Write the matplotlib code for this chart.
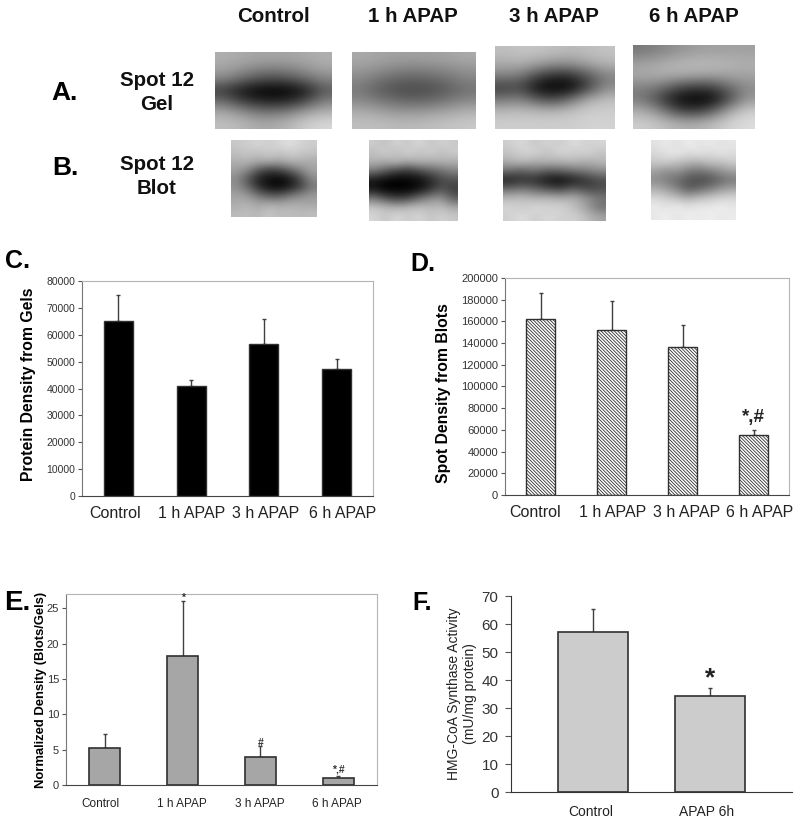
import numpy as np
import matplotlib
matplotlib.use('Agg')
import matplotlib.pyplot as plt

plt.rcParams['font.family'] = ['Liberation Sans', 'DejaVu Sans']
plt.rcParams['hatch.linewidth'] = 0.6

W = 800
H = 821

groups = ['Control', '1 h APAP', '3 h APAP', '6 h APAP']

gel_vals = [65000, 41000, 56500, 47200]
gel_tops = [74700, 43300, 65800, 51000]
gel_ticks = [0, 10000, 20000, 30000, 40000, 50000, 60000, 70000, 80000]

blot_vals = [162000, 152500, 136500, 55000]
blot_tops = [186500, 178500, 157000, 59500]
blot_ticks = [0, 20000, 40000, 60000, 80000, 100000, 120000, 140000, 160000, 180000, 200000]

norm_vals = [5.3, 18.2, 3.9, 1.0]
norm_tops = [7.2, 26.0, 5.5, 1.3]
norm_ticks = [0, 5, 10, 15, 20, 25]
norm_marks = ['*', '#', '*,#']
norm_mark_at = [25.8, 5.3, 1.5]

hmg_groups = ['Control', 'APAP 6h']
hmg_vals = [57, 34.3]
hmg_tops = [65.5, 37]
hmg_ticks = [0, 10, 20, 30, 40, 50, 60, 70]

# gray levels
gel_control = [[175, 170, 165, 165, 165, 170, 175],
               [165, 150, 135, 130, 135, 150, 165],
               [130, 105, 80, 70, 80, 105, 130],
               [60, 25, 5, 0, 5, 30, 90],
               [110, 70, 45, 35, 45, 80, 130],
               [170, 150, 125, 120, 135, 165, 180],
               [190, 185, 170, 170, 185, 205, 215]]
gel_1h = [[170, 165, 160, 160, 160, 165, 170],
          [155, 145, 135, 130, 135, 140, 150],
          [135, 115, 100, 95, 100, 115, 130],
          [120, 95, 80, 75, 80, 95, 115],
          [140, 125, 110, 105, 110, 125, 140],
          [175, 165, 155, 155, 160, 170, 180],
          [190, 190, 185, 185, 190, 195, 200]]
gel_3h = [[190, 195, 195, 190, 185, 190, 195],
          [170, 175, 160, 145, 145, 165, 180],
          [130, 120, 70, 40, 50, 90, 130],
          [60, 70, 10, 0, 5, 70, 140],
          [120, 130, 90, 70, 120, 175, 190],
          [185, 190, 185, 185, 195, 205, 205],
          [205, 205, 205, 205, 205, 210, 210]]
gel_6h = [[120, 130, 145, 155, 160, 160, 160],
          [160, 170, 180, 185, 185, 180, 175],
          [170, 175, 175, 170, 165, 165, 165],
          [130, 120, 80, 60, 65, 105, 140],
          [120, 70, 15, 0, 5, 70, 150],
          [175, 140, 75, 55, 90, 165, 205],
          [205, 195, 180, 175, 190, 210, 220]]

blot_control = [[200, 205, 215, 205, 215, 225, 210, 205],
                [190, 200, 190, 205, 195, 205, 200, 195],
                [175, 180, 170, 175, 165, 180, 175, 170],
                [160, 140, 90, 60, 70, 100, 135, 165],
                [140, 90, 35, 15, 5, 25, 75, 140],
                [145, 110, 50, 15, 10, 30, 65, 120],
                [165, 155, 120, 95, 90, 120, 140, 155],
                [170, 180, 165, 175, 170, 175, 170, 165],
                [185, 190, 180, 200, 185, 190, 185, 190]]
blot_1h = [[205, 190, 215, 195, 220, 195, 210, 200],
           [190, 210, 185, 215, 190, 210, 190, 205],
           [180, 170, 190, 165, 185, 170, 180, 175],
           [120, 90, 60, 50, 70, 95, 110, 130],
           [20, 5, 0, 5, 10, 35, 70, 80],
           [20, 0, 0, 0, 15, 45, 85, 60],
           [120, 80, 60, 70, 110, 140, 150, 90],
           [200, 190, 180, 190, 195, 185, 190, 170],
           [215, 195, 220, 200, 215, 195, 210, 200]]
blot_3h = [[205, 220, 195, 215, 200, 225, 205, 215],
           [195, 210, 215, 190, 220, 200, 215, 195],
           [175, 190, 170, 185, 175, 190, 170, 185],
           [110, 90, 115, 85, 100, 110, 125, 140],
           [30, 50, 40, 20, 5, 30, 50, 75],
           [110, 120, 105, 80, 70, 100, 70, 80],
           [185, 195, 180, 190, 175, 180, 150, 120],
           [215, 200, 220, 205, 215, 190, 160, 110],
           [205, 225, 200, 220, 205, 210, 190, 165]]
blot_6h = [[225, 235, 220, 240, 225, 235, 225, 230],
           [215, 225, 235, 215, 230, 215, 230, 220],
           [200, 205, 190, 185, 175, 195, 190, 205],
           [160, 140, 150, 120, 115, 125, 145, 160],
           [140, 125, 105, 85, 75, 80, 100, 120],
           [175, 155, 130, 90, 105, 125, 150, 165],
           [215, 205, 190, 175, 190, 200, 210, 215],
           [235, 225, 240, 225, 235, 230, 240, 230],
           [230, 240, 225, 240, 230, 240, 230, 235]]

# pixel boxes: left, right, top, bottom
photos = [(gel_control, 215, 332, 52, 129),
          (gel_1h, 352, 476, 52, 129),
          (gel_3h, 495, 615, 46, 129),
          (gel_6h, 633, 755, 45, 129),
          (blot_control, 231, 317, 140, 217),
          (blot_1h, 369, 458, 140, 221),
          (blot_3h, 503, 605, 140, 221),
          (blot_6h, 651, 736, 140, 220)]


def box(left, right, top, bottom):
  return [left / W, 1 - bottom / H, (right - left) / W, (bottom - top) / H]


def label(x, y, s, **kw):
  fig.text(x / W, 1 - y / H, s, ha='center', va='center', **kw)


def bars(rect, vals, tops, ticks, ymax, names, width, face, name_px, hatch=None, tick_size=7.5,
         cat_size=11.5, edge='#303030', lw=1.0, xlim=None):
  ax = fig.add_axes(box(*rect))
  x = np.arange(len(vals))
  ax.bar(x, vals, width, color=face, edgecolor=edge, linewidth=lw, hatch=hatch, zorder=2)
  errs = np.array(tops) - np.array(vals)
  ax.errorbar(x, vals, yerr=[np.zeros(len(vals)), errs], fmt='none', ecolor='#404040',
              elinewidth=1.0, capsize=1.5, capthick=1.0, zorder=1)
  if xlim is None:
    xlim = (-0.5, len(vals) - 0.5)
  ax.set_xlim(*xlim)
  ax.set_ylim(0, ymax)
  # the category labels sit a little off the bar centres in the original
  frac = (np.array(name_px) - rect[0]) / (rect[1] - rect[0])
  ax.set_xticks(xlim[0] + frac * (xlim[1] - xlim[0]))
  ax.set_xticklabels(names, fontsize=cat_size, color='#222222')
  ax.set_yticks(ticks)
  ax.set_yticklabels([str(t) for t in ticks], fontsize=tick_size, color='#333333')
  ax.tick_params(axis='x', length=0, pad=7)
  ax.tick_params(axis='y', length=3, width=0.8, color='#555555', pad=2)
  for side in ['top', 'right']:
    ax.spines[side].set_color('#b5b5b5')
  ax.spines['left'].set_color('#777777')
  ax.spines['bottom'].set_color('#444444')
  return ax


fig = plt.figure(figsize=(W / 100, H / 100), dpi=100)

for grid, left, right, top, bottom in photos:
  ax = fig.add_axes(box(left, right, top, bottom))
  ax.imshow(np.array(grid), cmap='gray', vmin=0, vmax=255, aspect='auto', interpolation='bicubic')
  ax.axis('off')

for name, xc in zip(groups, [273, 413, 554, 694]):
  label(xc, 17, name, fontsize=14.8, fontweight='bold', color='#111111')

label(65, 93, 'A.', fontsize=19, fontweight='bold')
label(65, 168, 'B.', fontsize=19, fontweight='bold')
label(157, 81, 'Spot 12', fontsize=14.8, fontweight='bold', color='#111111')
label(157, 105, 'Gel', fontsize=14.8, fontweight='bold', color='#111111')
label(157, 164, 'Spot 12', fontsize=14.8, fontweight='bold', color='#111111')
label(157, 188, 'Blot', fontsize=14.8, fontweight='bold', color='#111111')

# C
ax_c = bars((82, 373, 281, 496), gel_vals, gel_tops, gel_ticks, 80000, groups, 0.4, 'black',
            [115, 192, 266, 343])
ax_c.set_ylabel('Protein Density from Gels', fontsize=11.3, fontweight='bold', labelpad=7, y=0.519)
label(18, 261, 'C.', fontsize=18, fontweight='bold')

# D
ax_d = bars((505, 789, 278, 495), blot_vals, blot_tops, blot_ticks, 200000, groups, 0.4,
            'white', [535, 613, 687, 760], hatch='\\' * 10, tick_size=8)
ax_d.set_ylabel('Spot Density from Blots', fontsize=11.3, fontweight='bold', labelpad=7, y=0.47)
ax_d.text(3, 64000, '*,#', ha='center', va='bottom', fontsize=13.5, fontweight='bold', color='#222222')
label(423, 264, 'D.', fontsize=18, fontweight='bold')

# E
ax_e = bars((66, 377, 594, 785), norm_vals, norm_tops, norm_ticks, 27, groups, 0.4, '#a6a6a6',
            [100, 182, 260, 337], tick_size=8, cat_size=8.5, lw=1.2)
ax_e.tick_params(axis='x', pad=9)
ax_e.set_ylabel('Normalized Density (Blots/Gels)', fontsize=9.4, fontweight='bold', labelpad=0)
for i, s, y in zip([1, 2, 3], norm_marks, norm_mark_at):
  ax_e.text(i, y, s, ha='center', va='bottom', fontsize=7.5, fontweight='bold', color='#333333')
label(17, 603, 'E.', fontsize=20, fontweight='bold')

# F
ax_f = bars((511, 792, 596, 792), hmg_vals, hmg_tops, hmg_ticks, 70, hmg_groups, 0.6, '#cccccc',
            [591, 707], tick_size=11, cat_size=10, lw=1.2, xlim=(-0.70, 1.70))
ax_f.spines['top'].set_visible(False)
ax_f.spines['right'].set_visible(False)
ax_f.spines['left'].set_color('#333333')
ax_f.spines['bottom'].set_color('#333333')
ax_f.tick_params(axis='x', pad=9)
ax_f.tick_params(axis='y', length=4, pad=5)
ax_f.set_ylabel('HMG-CoA Synthase Activity\n(mU/mg protein)', fontsize=10, color='#222222', labelpad=3, linespacing=1.25)
ax_f.text(1, 36.2, '*', ha='center', va='bottom', fontsize=19, fontweight='bold', color='#222222')
label(422, 603, 'F.', fontsize=18, fontweight='bold')

fig.savefig('out.png', dpi=100)
